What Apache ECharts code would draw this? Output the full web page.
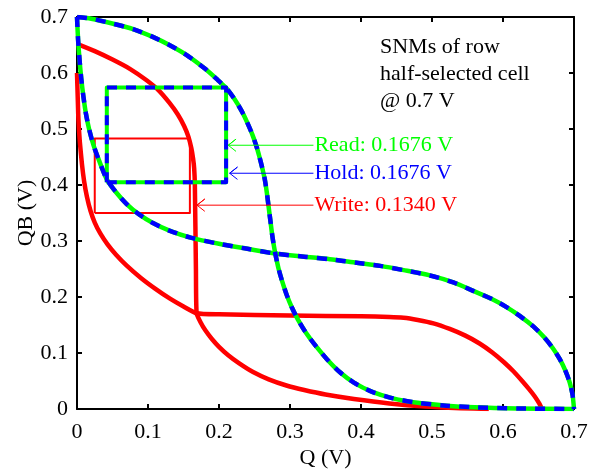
<!DOCTYPE html>
<html>
<head>
<meta charset="utf-8">
<script src="https://cdn.jsdelivr.net/npm/echarts@6/dist/echarts.min.js"></script>
<style>
html,body{margin:0;padding:0;background:#fff;}
#c{width:595px;height:471px;}
</style>
</head>
<body>
<div id="c"></div>
<script>
// ---- data ----
const xTickLabels = ['0','0.1','0.2','0.3','0.4','0.5','0.6','0.7'];
const yTickLabels = ['0','0.1','0.2','0.3','0.4','0.5','0.6','0.7'];

// Hold / Read butterfly (identical curves)
const vtcOuter = [[0,0.7],[0.02,0.697],[0.051,0.688],[0.08,0.678],[0.1075,0.664],[0.13,0.65],[0.1545,0.632],[0.18,0.608],[0.197,0.589],[0.211,0.572],[0.222,0.553],[0.232,0.532],[0.240,0.511],[0.247,0.49],[0.2525,0.47],[0.257,0.45],[0.261,0.43],[0.2645,0.41],[0.2675,0.385],[0.270,0.36],[0.2725,0.335],[0.275,0.31],[0.2775,0.29],[0.2805,0.27],[0.284,0.25],[0.289,0.228],[0.295,0.205],[0.302,0.183],[0.311,0.16],[0.322,0.137],[0.336,0.113],[0.352,0.089],[0.370,0.066],[0.39,0.047],[0.415,0.031],[0.445,0.019],[0.48,0.011],[0.52,0.006],[0.56,0.003],[0.62,0.001],[0.7,0]];
const vtcInner = [[0,0.7],[0.0015,0.66],[0.0035,0.625],[0.006,0.59],[0.009,0.558],[0.0125,0.528],[0.017,0.5],[0.023,0.472],[0.031,0.444],[0.042,0.41],[0.055,0.387],[0.07,0.366],[0.087,0.348],[0.107,0.332],[0.131,0.318],[0.16,0.306],[0.2,0.295],[0.24,0.286],[0.279,0.2775],[0.32,0.272],[0.356,0.2675],[0.394,0.261],[0.427,0.2556],[0.46,0.248],[0.497,0.2385],[0.53,0.226],[0.558,0.211],[0.585,0.196],[0.605,0.182],[0.625,0.165],[0.643,0.147],[0.658,0.128],[0.670,0.109],[0.680,0.089],[0.688,0.068],[0.694,0.047],[0.698,0.025],[0.7,0]];
const snmBoxHR = [[0.042,0.405],[0.210,0.405],[0.210,0.574],[0.042,0.574],[0.042,0.405]];

// Write butterfly
const writeVtc1 = [[0,0.652],[0.025,0.639],[0.05,0.624],[0.075,0.607],[0.098,0.587],[0.115,0.569],[0.13,0.547],[0.142,0.526],[0.151,0.505],[0.157,0.486],[0.161,0.466],[0.1635,0.447],[0.165,0.43],[0.166,0.40],[0.1675,0.25],[0.1685,0.171],[0.174,0.155],[0.181,0.14],[0.19,0.125],[0.2,0.111],[0.213,0.096],[0.228,0.082],[0.248,0.066],[0.27,0.053],[0.295,0.042],[0.32,0.034],[0.35,0.026],[0.39,0.018],[0.44,0.01],[0.49,0.0045],[0.54,0.0015],[0.58,0]];
const writeVtc2 = [[0.655,0],[0.651,0.01],[0.645,0.022],[0.637,0.035],[0.627,0.05],[0.615,0.067],[0.601,0.084],[0.585,0.101],[0.567,0.117],[0.547,0.131],[0.525,0.143],[0.502,0.153],[0.48,0.159],[0.46,0.163],[0.44,0.1645],[0.4,0.1655],[0.3,0.167],[0.2,0.169],[0.1685,0.171],[0.15,0.183],[0.131,0.197],[0.11,0.215],[0.09,0.234],[0.07,0.256],[0.055,0.2755],[0.043,0.294],[0.033,0.313],[0.025,0.333],[0.019,0.354],[0.014,0.379],[0.010,0.407],[0.007,0.437],[0.004,0.477],[0.002,0.517],[0.001,0.557],[0,0.6]];
const snmBoxW = [[0.025,0.35],[0.159,0.35],[0.159,0.483],[0.025,0.483],[0.025,0.35]];

// annotation arrows: [tipX, tailX, y]
const arrowRead = [0.213, 0.333, 0.471];
const arrowHold = [0.215, 0.333, 0.421];
const arrowWrite = [0.169, 0.333, 0.364];
const labels = ['Read: 0.1676 V','Hold: 0.1676 V','Write: 0.1340 V'];
const noteLines = ['SNMs of row','half-selected cell','@ 0.7 V'];

const RED='#ff0000', GREEN='#00ff00', BLUE='#0000ff';
const FONT='"Liberation Serif","Times New Roman",serif';

function arrowPath(a){
  const [tip, tail, y] = a;
  const hx = 0.011, hy = 0.011;
  return [[tail,y],[tip,y],[tip+hx,y+hy],[tip,y],[tip+hx,y-hy]];
}
function lineSeries(data,color,width,dash,z,smooth){
  return {type:'line',data:data,symbol:'none',smooth:smooth||false,silent:true,animation:false,z:z,
    lineStyle:{color:color,width:width,type:dash||'solid',cap:'butt',join:'round'}};
}

const axisCommon = {
  type:'value', min:0, max:0.7, interval:0.1,
  axisLine:{show:true,onZero:false,lineStyle:{color:'#000',width:2}},
  axisTick:{show:true,inside:true,length:5,lineStyle:{color:'#000',width:2}},
  splitLine:{show:false}
};

const chart = echarts.init(document.getElementById('c'), null, {renderer:'canvas'});
const option = {
  animation:false,
  backgroundColor:'#fff',
  grid:{left:77,right:21,top:17,bottom:62,containLabel:false,outerBoundsMode:'none'},
  xAxis:[
    Object.assign({}, axisCommon, {position:'bottom',
      axisLabel:{color:'#000',fontSize:22,fontFamily:FONT,margin:12,
        formatter:v=>xTickLabels[Math.round(v*10)]},
      name:'Q (V)',nameLocation:'middle',nameGap:38,nameMoveOverlap:false,
      nameTextStyle:{color:'#000',fontSize:22,fontFamily:FONT}}),
    Object.assign({}, axisCommon, {position:'top',axisLabel:{show:false}})
  ],
  yAxis:[
    Object.assign({}, axisCommon, {position:'left',
      axisLabel:{color:'#000',fontSize:22,fontFamily:FONT,margin:9,
        formatter:v=>yTickLabels[Math.round(v*10)]},
      name:'QB (V)',nameLocation:'middle',nameGap:40,nameMoveOverlap:false,
      nameTextStyle:{color:'#000',fontSize:22,fontFamily:FONT}}),
    Object.assign({}, axisCommon, {position:'right',axisLabel:{show:false}})
  ],
  series:[
    lineSeries(writeVtc1,RED,4.5,null,2,0.2),
    lineSeries(writeVtc2,RED,4.5,null,2,0.2),
    lineSeries(snmBoxW,RED,2,null,2),
    lineSeries(vtcOuter,GREEN,4.5,null,3,0.25),
    lineSeries(vtcInner,GREEN,4.5,null,3,0.25),
    lineSeries(snmBoxHR,GREEN,4,null,3),
    lineSeries(vtcOuter,BLUE,4.5,[10,9],4,0.25),
    lineSeries(vtcInner,BLUE,4.5,[10,9],4,0.25),
    lineSeries(snmBoxHR,BLUE,4,[10,9],4),
    lineSeries(arrowPath(arrowRead),GREEN,1,null,5),
    lineSeries(arrowPath(arrowHold),BLUE,1,null,5),
    lineSeries(arrowPath(arrowWrite),RED,1,null,5)
  ]
};
chart.setOption(option);

const arrows=[arrowRead,arrowHold,arrowWrite];
const colors=[GREEN,BLUE,RED];
const g=[];
arrows.forEach((a,i)=>{
  const p=chart.convertToPixel({gridIndex:0},[a[1],a[2]]);
  g.push({type:'text',x:p[0]+1,y:p[1],silent:true,
    style:{text:labels[i],fill:colors[i],font:'22px '+FONT,textAlign:'left',textVerticalAlign:'middle'}});
});
g.push({type:'text',left:380,top:34,silent:true,
  style:{text:noteLines.join('\n'),fill:'#000',font:'22px '+FONT,lineHeight:27,textAlign:'left'}});
chart.setOption({graphic:g});
</script>
</body>
</html>
